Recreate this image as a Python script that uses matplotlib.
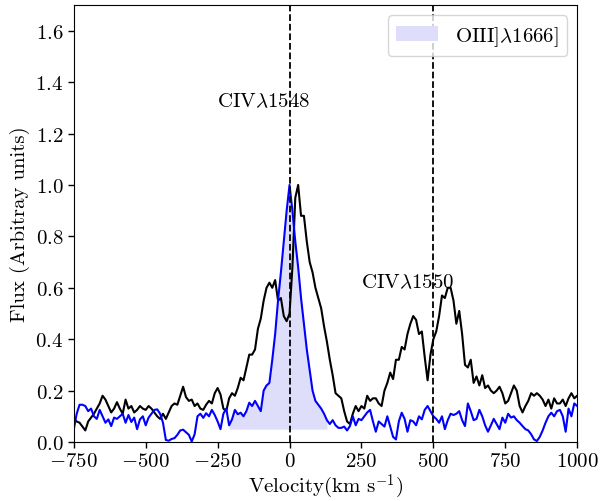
import numpy as np
import matplotlib
matplotlib.use("Agg")
import matplotlib.pyplot as plt
from matplotlib.ticker import FuncFormatter

plt.rcParams["font.family"] = "serif"
plt.rcParams["font.serif"] = ["cmr10", "DejaVu Serif"]
plt.rcParams["mathtext.fontset"] = "cm"
plt.rcParams["axes.unicode_minus"] = False
plt.rcParams["axes.formatter.use_mathtext"] = True

# Velocity grid (km/s)
velocity = np.arange(-750, 1001, 10)

# CIV doublet profile (black)
flux_civ = [
    0.09, 0.08, 0.075, 0.06, 0.045, 0.08, 0.095, 0.11, 0.13, 0.15,
    0.18, 0.165, 0.14, 0.115, 0.13, 0.155, 0.13, 0.11, 0.165, 0.13,
    0.14, 0.115, 0.125, 0.14, 0.13, 0.125, 0.14, 0.13, 0.115, 0.10,
    0.09, 0.11, 0.09, 0.115, 0.14, 0.15, 0.145, 0.18, 0.215, 0.175,
    0.16, 0.165, 0.14, 0.15, 0.13, 0.125, 0.145, 0.16, 0.15, 0.19,
    0.21, 0.185, 0.13, 0.12, 0.17, 0.19, 0.18, 0.21, 0.25, 0.24,
    0.29, 0.34, 0.34, 0.36, 0.44, 0.48, 0.55, 0.60, 0.62, 0.60,
    0.63, 0.55, 0.56, 0.49, 0.47, 0.50, 0.68, 0.95, 1.00, 0.88,
    0.88, 0.78, 0.70, 0.66, 0.60, 0.56, 0.52, 0.45, 0.39, 0.32,
    0.26, 0.19, 0.18, 0.17, 0.12, 0.08, 0.07, 0.11, 0.14, 0.12,
    0.14, 0.13, 0.18, 0.16, 0.17, 0.17, 0.15, 0.14, 0.20, 0.23,
    0.27, 0.245, 0.32, 0.32, 0.37, 0.36, 0.42, 0.46, 0.49, 0.475,
    0.42, 0.43, 0.33, 0.24, 0.34, 0.40, 0.43, 0.49, 0.57, 0.56,
    0.60, 0.60, 0.55, 0.46, 0.51, 0.42, 0.30, 0.29, 0.32, 0.23,
    0.255, 0.22, 0.26, 0.21, 0.22, 0.20, 0.19, 0.20, 0.215, 0.19,
    0.15, 0.16, 0.19, 0.22, 0.20, 0.14, 0.115, 0.14, 0.16, 0.19,
    0.18, 0.19, 0.18, 0.165, 0.14, 0.165, 0.13, 0.17, 0.15, 0.15,
    0.165, 0.14, 0.17, 0.19, 0.17, 0.18,
]

# OIII] 1666 profile (blue)
flux_oiii = [
    0.05, 0.11, 0.145, 0.145, 0.14, 0.12, 0.13, 0.10, 0.09, 0.125,
    0.10, 0.075, 0.088, 0.062, 0.095, 0.09, 0.10, 0.11, 0.075, 0.105,
    0.078, 0.095, 0.05, 0.088, 0.10, 0.065, 0.095, 0.11, 0.125, 0.127,
    0.11, 0.075, 0.008, 0.005, 0.012, 0.015, 0.028, 0.045, 0.048, 0.038,
    0.028, 0.002, 0.03, 0.10, 0.11, 0.094, 0.112, 0.10, 0.125, 0.105,
    0.08, 0.05, 0.11, 0.13, 0.065, 0.088, 0.125, 0.108, 0.114, 0.10,
    0.12, 0.153, 0.14, 0.16, 0.14, 0.12, 0.20, 0.22, 0.23, 0.32,
    0.42, 0.55, 0.66, 0.78, 0.90, 1.00, 0.90, 0.78, 0.68, 0.56,
    0.46, 0.36, 0.28, 0.20, 0.16, 0.145, 0.13, 0.11, 0.085, 0.07,
    0.085, 0.065, 0.055, 0.055, 0.06, 0.045, 0.062, 0.10, 0.065, 0.09,
    0.085, 0.10, 0.115, 0.125, 0.08, 0.04, 0.08, 0.07, 0.06, 0.10,
    0.06, 0.02, 0.01, 0.08, 0.114, 0.09, 0.04, 0.085, 0.08, 0.065,
    0.10, 0.088, 0.125, 0.14, 0.12, 0.10, 0.09, 0.075, 0.10, 0.05,
    0.085, 0.11, 0.105, 0.11, 0.12, 0.085, 0.062, 0.15, 0.12, 0.085,
    0.09, 0.125, 0.10, 0.065, 0.04, 0.065, 0.09, 0.07, 0.05, 0.095,
    0.075, 0.11, 0.095, 0.10, 0.085, 0.075, 0.062, 0.05, 0.045, 0.03,
    0.01, 0.004, 0.02, 0.045, 0.075, 0.10, 0.114, 0.10, 0.12, 0.125,
    0.10, 0.04, 0.13, 0.10, 0.15, 0.14,
]

line_centres = [0, 500]
line_names = [r"CIV$\lambda$1548", r"CIV$\lambda$1550"]
label_pos = [(-252, 1.305), (247, 0.603)]
fill_range = (-210, 135)
fill_base = 0.05

velocity = np.asarray(velocity, dtype=float)
flux_civ = np.asarray(flux_civ)
flux_oiii = np.asarray(flux_oiii)

fig = plt.figure(figsize=(6.05, 5.02), dpi=100)
ax = fig.add_axes([0.122, 0.1175, 0.832, 0.8705])

ax.plot(velocity, flux_civ, color="black", lw=1.5)
ax.plot(velocity, flux_oiii, color="blue", lw=1.5)

mask = (velocity >= fill_range[0]) & (velocity <= fill_range[1])
ax.fill_between(velocity, fill_base, flux_oiii, where=mask,
                color=(0.87, 0.87, 0.98), lw=0, label=r"OIII]$\lambda$1666]")

for vc in line_centres:
    ax.axvline(vc, color="black", ls="--", lw=1.3)

for name, (tx, ty) in zip(line_names, label_pos):
    ax.text(tx, ty, name, fontsize=15, ha="left", va="baseline")

ax.set_xlim(-750, 1000)
ax.set_ylim(0, 1.7)
ax.set_xticks([-750, -500, -250, 0, 250, 500, 750, 1000])
ax.set_yticks([0.0, 0.2, 0.4, 0.6, 0.8, 1.0, 1.2, 1.4, 1.6])
ax.xaxis.set_major_formatter(FuncFormatter(lambda v, p: f"${v:.0f}$"))
ax.yaxis.set_major_formatter(FuncFormatter(lambda v, p: f"${v:.1f}$"))
ax.tick_params(labelsize=15, width=1, length=4)

ax.set_xlabel(r"Velocity(km s$^{-1}$)", fontsize=15, labelpad=1)
ax.set_ylabel("Flux (Arbitray units)", fontsize=15)

ax.legend(loc="upper right", fontsize=15)

fig.savefig("out.png", dpi=100)
